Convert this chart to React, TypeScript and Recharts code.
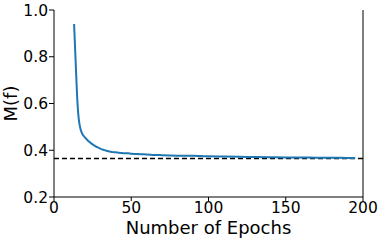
import React from 'react';
import { LineChart, Line, XAxis, YAxis, ReferenceLine, Label } from 'recharts';

const epochs = [13, 14, 15, 16, 17, 18, 19, 20, 21, 22, 23, 24, 25, 26, 27, 28, 29, 30, 31, 32, 34, 36, 38, 40, 42, 44, 46, 48, 50, 53, 56, 60, 65, 70, 75, 80, 85, 90, 95, 100, 110, 120, 130, 140, 150, 160, 170, 180, 190, 195];
const mValues = [0.94, 0.78, 0.625, 0.535, 0.495, 0.474, 0.463, 0.455, 0.448, 0.441, 0.435, 0.43, 0.425, 0.421, 0.417, 0.413, 0.41, 0.407, 0.404, 0.402, 0.398, 0.395, 0.392, 0.391, 0.389, 0.388, 0.387, 0.387, 0.385, 0.384, 0.383, 0.382, 0.380, 0.379, 0.378, 0.377, 0.376, 0.376, 0.375, 0.374, 0.373, 0.372, 0.371, 0.370, 0.369, 0.369, 0.368, 0.368, 0.367, 0.367];
const baseline = 0.365;
const xTicks = [0, 50, 100, 150, 200];
const yTicks = [0.2, 0.4, 0.6, 0.8, 1.0];

const data = epochs.map((e, i) => ({ epoch: e, m: mValues[i] }));

const font = 'DejaVu Sans';

export default function App() {
  return (
    <div style={{ position: 'absolute', left: 0, top: 0, width: 382, height: 240, background: '#fff' }}>
      <LineChart width={382} height={240} data={data} margin={{ top: 10, right: 0, bottom: 0, left: 0 }} style={{ fontFamily: font }}>
        <XAxis
          xAxisId="b"
          dataKey="epoch"
          type="number"
          domain={[0, 200]}
          ticks={xTicks}
          height={43}
          tickSize={4}
          tickMargin={1}
          stroke="#000"
          tick={{ fill: '#000', fontSize: 15.5, fontFamily: font }}
          axisLine={{ stroke: '#000', strokeWidth: 1 }}
          tickLine={{ stroke: '#000' }}
        >
          <Label value="Number of Epochs" position="insideBottom" offset={6} style={{ fontSize: 18, fill: '#000', fontFamily: font }} />
        </XAxis>
        <XAxis xAxisId="t" orientation="top" type="number" domain={[0, 200]} height={0} tick={false} tickLine={false} axisLine={{ stroke: '#000' }} />
        <YAxis
          yAxisId="l"
          type="number"
          domain={[0.2, 1.0]}
          ticks={yTicks}
          width={54}
          tickSize={5}
          tickMargin={1}
          tickFormatter={(v: number) => v.toFixed(1)}
          tick={{ fill: '#000', fontSize: 15.5, fontFamily: font }}
          axisLine={{ stroke: '#000' }}
          tickLine={{ stroke: '#000' }}
        >
          <Label value="M(f)" angle={-90} position="insideLeft" offset={0} dx={11} style={{ fontSize: 18, fill: '#000', fontFamily: font, textAnchor: 'middle' }} />
        </YAxis>
        <YAxis
          yAxisId="r"
          orientation="right"
          type="number"
          domain={[0.2, 1.0]}
          ticks={yTicks}
          width={19}
          tickSize={3}
          tick={false}
          axisLine={{ stroke: '#000' }}
          tickLine={{ stroke: '#000' }}
        />
        <ReferenceLine xAxisId="b" yAxisId="l" y={baseline} stroke="#000" strokeWidth={1.5} strokeDasharray="5 3" />
        <Line xAxisId="b" yAxisId="l" type="monotone" dataKey="m" stroke="#1f77b4" strokeWidth={2} dot={false} isAnimationActive={false} />
      </LineChart>
    </div>
  );
}
